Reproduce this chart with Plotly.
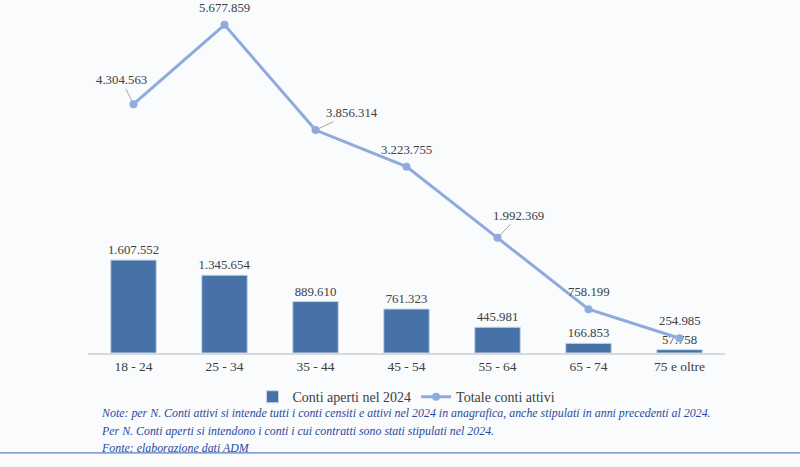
import plotly.graph_objects as go

# age classes and values
fasce = ['18 - 24', '25 - 34', '35 - 44', '45 - 54', '55 - 64', '65 - 74', '75 e oltre']
conti_aperti = [1607552, 1345654, 889610, 761323, 445981, 166853, 57758]
conti_attivi = [4304563, 5677859, 3856314, 3223755, 1992369, 758199, 254985]

note_righe = [
    'Note: per N. Conti attivi si intende tutti i conti censiti e attivi nel 2024 in anagrafica, anche stipulati in anni precedenti al 2024.',
    'Per N. Conti aperti si intendono i conti i cui contratti sono stati stipulati nel 2024.',
    'Fonte: elaborazione dati ADM',
]

def fmt(v):
    return f'{v:,}'.replace(',', '.')

FONT = 'Liberation Serif'
TXT = '#404040'

fig = go.Figure()

fig.add_trace(go.Bar(
    x=fasce, y=conti_aperti, name='Conti aperti nel 2024',
    marker=dict(color='#4672A8', line=dict(color='#C9D6E8', width=1)),
    width=0.5,
    text=[fmt(v) for v in conti_aperti], textposition='outside',
    constraintext='none', cliponaxis=False,
    textfont=dict(family=FONT, size=12.8, color=TXT),
))

fig.add_trace(go.Scatter(
    x=fasce, y=conti_attivi, name='Totale conti attivi',
    mode='lines+markers',
    line=dict(color='#8FAADC', width=3),
    marker=dict(color='#8FAADC', size=8),
    cliponaxis=False,
))

# labels for the line: some with leader lines
offsets = {0: (-12, -24), 2: (36, -17), 4: (21, -22)}
for i, (cat, v) in enumerate(zip(fasce, conti_attivi)):
    if i in offsets:
        ax, ay = offsets[i]
        fig.add_annotation(x=cat, y=v, text=fmt(v), showarrow=True,
                           arrowhead=0, arrowwidth=1, arrowcolor='#A6A6A6',
                           ax=ax, ay=ay, standoff=2,
                           font=dict(family=FONT, size=12.8, color=TXT))
    else:
        fig.add_annotation(x=cat, y=v, text=fmt(v), showarrow=False,
                           yshift=17, font=dict(family=FONT, size=12.8, color=TXT))

for k, riga in enumerate(note_righe):
    fig.add_annotation(xref='paper', yref='paper', x=0.018, y=[-0.17, -0.221, -0.27][k],
                       text=riga, showarrow=False, xanchor='left', yanchor='middle',
                       font=dict(family=FONT, size=11.9, color='#2B4A9E', style='italic'))

fig.add_shape(type='line', xref='paper', yref='paper',
              x0=-0.14, x1=1.12, y0=-0.283, y1=-0.283,
              line=dict(color='#5B7FC0', width=1.2))

fig.update_layout(
    width=800, height=467,
    margin=dict(l=88, r=75, t=0, b=114),
    paper_bgcolor='#F9FBFD', plot_bgcolor='#F9FBFD',
    font=dict(family=FONT, size=13.5, color=TXT),
    bargap=0.5,
    showlegend=True,
    legend=dict(orientation='h', x=0.5, xanchor='center', y=-0.125, yanchor='middle',
                font=dict(family=FONT, size=14, color=TXT), bgcolor='rgba(0,0,0,0)'),
    xaxis=dict(showline=True, linecolor='#D9D9D9', linewidth=1.5, ticks='',
               tickfont=dict(family=FONT, size=13.5, color=TXT), showgrid=False),
    yaxis=dict(visible=False, range=[0, 6107000], showgrid=False, zeroline=False),
)

# drop the default page margin so the figure sits at the window corner
fig.write_html('out.html', config={'displayModeBar': False},
               post_script="document.body.style.margin='0';document.body.style.overflow='hidden';")
